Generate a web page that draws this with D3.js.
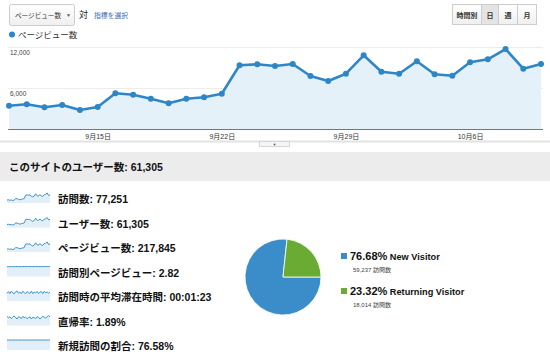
<!DOCTYPE html>
<html>
<head>
<meta charset="utf-8">
<script src="https://cdn.jsdelivr.net/npm/d3@7"></script>
<style>
  body { margin: 0; background: #fff; }
  svg { display: block; font-family: "Liberation Sans", "Noto Sans CJK JP", sans-serif; }
</style>
</head>
<body>
<div id="chart"></div>
<script>
// Data
var days = d3.range(31).map(i => new Date(2013, 8, 10 + i)); // 9/10 .. 10/10
var pageviews = [3410, 3615, 3176, 3512, 2780, 3220, 5224, 5020, 4434, 3761, 4434, 4639, 5166,
  9322, 9468, 9220, 9512, 7756, 7024, 8093, 10785, 8385, 8093, 9907, 8005, 7800, 9761, 10200, 11707, 8824, 9512];
var yTicks = [6000, 12000];
var xTickDates = [new Date(2013, 8, 15), new Date(2013, 8, 22), new Date(2013, 8, 29), new Date(2013, 9, 6)];

var metricLabels = ["訪問数: 77,251", "ユーザー数: 61,305", "ページビュー数: 217,845", "訪問別ページビュー: 2.82",
  "訪問時の平均滞在時間: 00:01:23", "直帰率: 1.89%", "新規訪問の割合: 76.58%"];
var visitsSpark = [1240, 1310, 1150, 1270, 1010, 1170, 1860, 1790, 1580, 1340, 1590, 1650, 1840, 3290, 3360, 3280,
  3390, 2760, 2510, 2880, 3820, 2990, 2890, 3520, 2840, 2780, 3460, 3620, 4150, 3130, 3380];
var usersSpark = [1010, 1060, 940, 1030, 830, 950, 1510, 1460, 1290, 1100, 1300, 1340, 1500, 2620, 2690, 2610,
  2700, 2220, 2020, 2310, 3040, 2390, 2320, 2800, 2280, 2230, 2760, 2880, 3290, 2500, 2700];
var pagesPerVisit = [2.79, 2.80, 2.78, 2.81, 2.80, 2.79, 2.83, 2.82, 2.80, 2.81, 2.79, 2.82, 2.81, 2.83, 2.84, 2.82,
  2.83, 2.81, 2.80, 2.82, 2.84, 2.83, 2.81, 2.82, 2.80, 2.81, 2.83, 2.82, 2.84, 2.81, 2.82];
var avgDuration = [72, 90, 70, 94, 78, 68, 88, 95, 74, 86, 70, 92, 80, 69, 90, 78, 73, 94, 70, 86, 76, 91, 72, 84, 89, 70, 93, 78, 86, 74, 85];
var bounceRate = [2.1, 1.8, 2.0, 1.6, 1.9, 2.2, 1.8, 1.5, 2.0, 1.9, 1.6, 2.1, 1.8, 1.9, 1.6, 1.8, 2.0, 1.5, 1.9, 1.8,
  1.6, 2.0, 1.9, 1.5, 1.8, 2.1, 1.9, 1.7, 2.0, 2.3, 2.0];
var newVisitPct = [76.2, 76.5, 76.8, 76.4, 76.9, 76.6, 76.3, 76.7, 76.5, 76.8, 76.6, 76.4, 76.7, 76.5, 76.6, 76.3,
  76.7, 76.5, 76.8, 76.4, 76.6, 76.5, 76.7, 76.6, 76.4, 76.8, 76.5, 76.6, 76.7, 76.5, 76.6];
var sparks = [visitsSpark, usersSpark, pageviews, pagesPerVisit, avgDuration, bounceRate, newVisitPct];

var pieNames = ["New Visitor", "Returning Visitor"];
var piePct = [76.68, 23.32];
var pieVisits = ["59,237", "18,014"];
var pieColors = ["#3a8dc8", "#6aab33"];

var lineBlue = "#2f86c6";
var fillBlue = "#e5f1f9";

var svg = d3.select("#chart").append("svg")
  .attr("width", 550)
  .attr("height", 361);

// ---- top controls ----
var grad = svg.append("defs").append("linearGradient")
  .attr("id", "btn").attr("x1", 0).attr("y1", 0).attr("x2", 0).attr("y2", 1);
grad.append("stop").attr("offset", "0%").attr("stop-color", "#fff");
grad.append("stop").attr("offset", "100%").attr("stop-color", "#efefef");

svg.append("rect")
  .attr("x", 9.5).attr("y", 4.5).attr("width", 65).attr("height", 21).attr("rx", 2)
  .attr("fill", "url(#btn)").attr("stroke", "#ccc");
svg.append("text").attr("x", 15).attr("y", 17.5)
  .style("font-size", "6.6px").attr("fill", "#333").text("ページビュー数");
svg.append("text").attr("x", 66).attr("y", 17)
  .style("font-size", "5px").attr("fill", "#555").text("▼");
svg.append("text").attr("x", 79).attr("y", 18)
  .style("font-size", "9px").attr("fill", "#222").text("対");
svg.append("text").attr("x", 94).attr("y", 17.5)
  .style("font-size", "6.8px").attr("fill", "#3d6fb5").text("指標を選択");

// period buttons
var btnLabels = ["時間別", "日", "週", "月"];
var btnX = [452, 481, 498, 517, 536];
btnLabels.forEach(function(b, i) {
  svg.append("rect")
    .attr("x", btnX[i] + 0.5).attr("y", 4.5)
    .attr("width", btnX[i + 1] - btnX[i]).attr("height", 20)
    .attr("fill", i === 1 ? "#e4e4e4" : "url(#btn)")
    .attr("stroke", "#ccc");
  svg.append("text")
    .attr("x", (btnX[i] + btnX[i + 1]) / 2 + 0.5).attr("y", 17.5)
    .attr("text-anchor", "middle")
    .style("font-size", "7px").style("font-weight", "bold").attr("fill", "#333")
    .text(b);
});

// legend
svg.append("circle").attr("cx", 12).attr("cy", 34.5).attr("r", 3).attr("fill", lineBlue);
svg.append("text").attr("x", 18).attr("y", 37.5)
  .style("font-size", "8.5px").attr("fill", "#333").text("ページビュー数");

// ---- main line chart ----
var x = d3.scaleTime()
  .domain(d3.extent(days))
  .range([9, 541]);
var y = d3.scaleLinear()
  .domain([0, 12000])
  .range([129, 47]);

// gridlines
svg.selectAll(".grid").data(yTicks).enter().append("line")
  .attr("x1", 8).attr("x2", 543)
  .attr("y1", d => Math.round(y(d)) + 0.5).attr("y2", d => Math.round(y(d)) + 0.5)
  .attr("stroke", "#ececec");

var area = d3.area()
  .x((d, i) => x(days[i]))
  .y0(y(0))
  .y1(d => y(d));
svg.append("path").datum(pageviews)
  .attr("d", area)
  .attr("fill", fillBlue);

svg.selectAll(".ylab").data(yTicks).enter().append("text")
  .attr("x", 10).attr("y", d => y(d) + 8)
  .style("font-size", "6.5px").attr("fill", "#444")
  .text(d => d3.format(",")(d));

var line = d3.line()
  .x((d, i) => x(days[i]))
  .y(d => y(d));
svg.append("path").datum(pageviews)
  .attr("d", line)
  .attr("fill", "none")
  .attr("stroke", lineBlue)
  .attr("stroke-width", 2.6)
  .attr("stroke-linejoin", "round");

svg.selectAll(".dot").data(pageviews).enter().append("circle")
  .attr("cx", (d, i) => x(days[i]))
  .attr("cy", d => y(d))
  .attr("r", 3)
  .attr("fill", lineBlue);

// x axis
var xAxis = d3.axisBottom(x)
  .tickValues(xTickDates)
  .tickSize(0)
  .tickPadding(5)
  .tickFormat(d => (d.getMonth() + 1) + "月" + d.getDate() + "日");
var gx = svg.append("g")
  .attr("transform", "translate(0," + 129.5 + ")")
  .call(xAxis);
gx.select(".domain").attr("d", "M8,0H543").attr("stroke", "#777").attr("stroke-width", 1);
gx.selectAll("text")
  .style("font-size", "7px").attr("fill", "#333")
  .style("font-family", "'Liberation Sans', 'Noto Sans CJK JP', sans-serif");

// slider strip under chart
svg.append("line").attr("x1", 0).attr("x2", 550).attr("y1", 141.5).attr("y2", 141.5)
  .attr("stroke", "#e2e2e2").attr("stroke-width", 2);
svg.append("rect").attr("x", 259.5).attr("y", 141.5).attr("width", 30).attr("height", 5)
  .attr("fill", "#f5f5f5").attr("stroke", "#d6d6d6");
svg.append("text").attr("x", 274.5).attr("y", 146).attr("text-anchor", "middle")
  .style("font-size", "4px").attr("fill", "#555").text("▼");

// ---- section header ----
svg.append("rect").attr("x", 0).attr("y", 152).attr("width", 550).attr("height", 29)
  .attr("fill", "#ececec");
svg.append("text").attr("x", 9).attr("y", 171)
  .style("font-size", "10.5px").style("font-weight", "bold").attr("fill", "#111")
  .text("このサイトのユーザー数: 61,305");

// ---- metric rows with sparklines ----
var rowY = d3.scaleLinear().domain([0, 6]).range([199, 346]);
var sx = d3.scaleLinear().domain([0, 30]).range([7, 50]);

sparks.forEach(function(vals, r) {
  var cy = rowY(r);
  var sy = d3.scaleLinear().domain([0, d3.max(vals)]).range([cy + 4, cy - 6]);
  svg.append("path").datum(vals)
    .attr("d", d3.area().x((d, i) => sx(i)).y0(cy + 4).y1(d => sy(d)))
    .attr("fill", "#e2eff8");
  svg.append("path").datum(vals)
    .attr("d", d3.line().x((d, i) => sx(i)).y(d => sy(d)))
    .attr("fill", "none").attr("stroke", "#3e93cc").attr("stroke-width", 1);
  svg.append("text").attr("x", 58).attr("y", cy + 4)
    .style("font-size", "10.5px").style("font-weight", "bold").attr("fill", "#111")
    .text(metricLabels[r]);
});

// ---- pie ----
var pie = d3.pie().sort(null).startAngle(Math.PI / 2).endAngle(Math.PI / 2 + 2 * Math.PI);
var arc = d3.arc().innerRadius(0).outerRadius(38);
var pg = svg.append("g").attr("transform", "translate(283,277)");
pg.selectAll("path").data(pie(piePct)).enter().append("path")
  .attr("d", arc)
  .attr("fill", (d, i) => pieColors[i])
  .attr("stroke", "#fff").attr("stroke-width", 0.8);

// pie legend
var legY = [256, 291];
pieNames.forEach(function(n, i) {
  svg.append("rect").attr("x", 341).attr("y", legY[i] - 3).attr("width", 6).attr("height", 6)
    .attr("fill", pieColors[i]);
  var t = svg.append("text").attr("x", 350).attr("y", legY[i] + 3.5).attr("fill", "#111")
    .style("font-weight", "bold");
  t.append("tspan").style("font-size", "11px").text(piePct[i].toFixed(2) + "%");
  t.append("tspan").style("font-size", "9.2px").text(" " + n);
  svg.append("text").attr("x", 353).attr("y", legY[i] + 16)
    .style("font-size", "6px").attr("fill", "#444")
    .text(pieVisits[i] + " 訪問数");
});
</script>
</body>
</html>
